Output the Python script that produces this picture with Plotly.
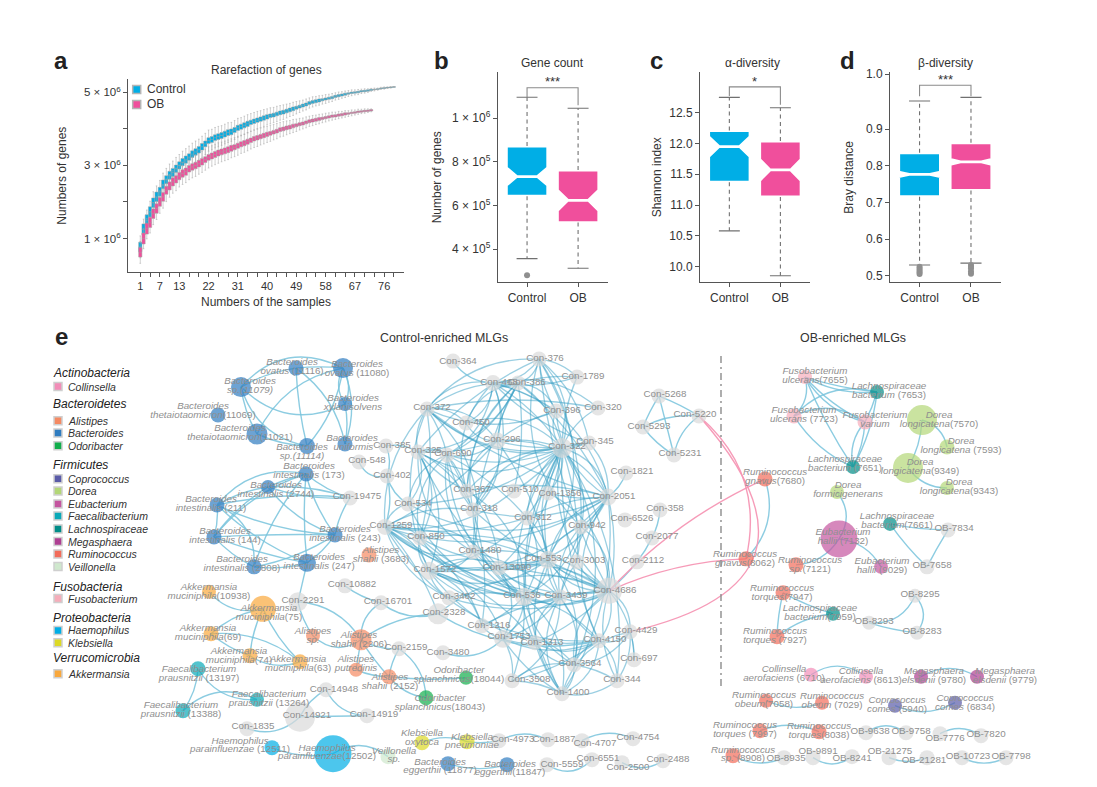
import plotly.graph_objects as go

# ---------- panel a data (units of 1e6 genes) ----------
ctrl_median = [0.77,1.25,1.50,1.73,1.98,2.14,2.28,2.48,2.61,2.73,
 2.81,2.91,3.00,3.09,3.16,3.23,3.31,3.37,3.43,3.51,
 3.59,3.68,3.71,3.76,3.79,3.82,3.86,3.90,3.92,3.97,
 4.03,4.06,4.10,4.14,4.18,4.21,4.24,4.27,4.30,4.33,
 4.36,4.38,4.41,4.44,4.46,4.49,4.52,4.55,4.58,4.61,
 4.64,4.67,4.71,4.74,4.76,4.78,4.80,4.82,4.84,4.86,
 4.89,4.91,4.93,4.95,4.97,4.99,5.00,5.01,5.03,5.04,
 5.05,5.07,5.08,5.09,5.11,5.12,5.13,5.14,5.15]
ob_median = [0.62,1.00,1.27,1.44,1.68,1.82,2.00,2.14,2.32,2.44,
 2.55,2.62,2.71,2.78,2.83,2.91,2.96,3.00,3.05,3.10,
 3.16,3.22,3.26,3.30,3.34,3.37,3.40,3.43,3.47,3.50,
 3.54,3.58,3.61,3.65,3.69,3.73,3.76,3.79,3.82,3.85,
 3.88,3.91,3.94,3.98,4.00,4.03,4.05,4.08,4.10,4.13,
 4.15,4.18,4.21,4.23,4.25,4.27,4.29,4.31,4.33,4.35,
 4.36,4.38,4.39,4.41,4.42,4.44,4.45,4.47,4.48,4.49,4.50,4.51]
box_half = [.13,.15,.15,.14,.13,.13,.12,.12,.11,.11,
 .11,.10,.10,.10,.10,.09,.09,.09,.09,.09,
 .08,.08,.08,.08,.08,.08,.08,.08,.08,.07,
 .07,.07,.07,.07,.06,.06,.06,.06,.06,.06,
 .05,.05,.05,.05,.05,.05,.05,.05,.04,.04,
 .04,.04,.04,.04,.04,.04,.03,.03,.03,.03,
 .03,.03,.03,.03,.02,.02,.02,.02,.02,.02,
 .02,.02,.01,.01,.01,.01,.01,.01,.005]
whisk_half = [.30,.28,.28,.29,.30,.30,.31,.31,.31,.31,
 .31,.31,.30,.30,.30,.30,.30,.30,.29,.29,
 .29,.29,.28,.28,.28,.27,.27,.27,.26,.26,
 .26,.25,.25,.25,.24,.24,.24,.23,.23,.22,
 .22,.21,.21,.20,.20,.19,.18,.18,.17,.16,
 .15,.15,.14,.14,.13,.13,.12,.12,.11,.11,
 .10,.10,.09,.09,.08,.08,.07,.07,.06,.06,
 .05,.04,.04,.03,.03,.03,.02,.02,.01]
sample_labels = [1,7,13,22,31,40,49,58,67,76]
sample_minor = [4,10,16,19,25,28,34,37,43,46,52,55,61,64,70,73,79]

# ---------- panels b, c, d data: q1, median, q3, lower, upper, notch span ----------
groups = ["Control", "OB"]
gene_q1 = [6.43e5, 5.22e5]; gene_med = [7.33e5, 6.24e5]; gene_q3 = [8.73e5, 7.63e5]
gene_lo = [3.57e5, 3.13e5]; gene_hi = [1.096e6, 1.046e6]; gene_notch = [4.0e4, 4.6e4]
gene_out_x = [0]; gene_out_y = [2.81e5]
alpha_q1 = [11.37, 11.13]; alpha_med = [11.95, 11.57]; alpha_q3 = [12.21, 12.04]
alpha_lo = [10.58, 9.85]; alpha_hi = [12.75, 12.58]; alpha_notch = [0.16, 0.17]
beta_q1 = [0.716, 0.733]; beta_med = [0.777, 0.811]; beta_q3 = [0.836, 0.863]
beta_lo = [0.530, 0.535]; beta_hi = [0.977, 0.987]; beta_notch = [0.006, 0.007]
beta_out_x = [0,0,0,0,0,1,1,1,1,1]
beta_out_y = [.525,.52,.515,.51,.505,.53,.525,.52,.512,.506]

# ---------- network nodes: id, label (genus|species|rest), x, y, diameter, label x, label y ----------
collinsella = [("6710","Collinsella|aerofaciens| (6710)",811,675,14,784,674),("8613","Collinsella|aerofaciens| (8613)",866,677,14,861,676)]
alistipes = [("alsp","Alistipes|sp.|",313,636,14,313,636),("2206","Alistipes|shahii| (2206)",361,640,21,359,640),
 ("alpu","Alistipes|putredinis|",356,670,14,356,664),("2152","Alistipes|shahii| (2152)",389,677,15,390,682),
 ("3683","Alistipes|shahii| (3683)",369,555,15,381,555)]
bacteroides = [("11116","Bacteroides|ovatus| (11116)",296,368,15,292,367),("11080","Bacteroides|ovatus| (11080)",343,368,20,357,369),
 ("11079","Bacteroides|sp.(11079)|",241,387,20,250,386),("xyl","Bacteroides|xylanisolvens|",345,404,14,353,403),
 ("11069","Bacteroides|thetaiotaomicron|(11069)",218,415,15,203,411),("11021","Bacteroides|thetaiotaomicron|(11021)",257,434,21,240,433),
 ("11114","Bacteroides|sp.(11114)|",307,446,16,302,452),("uni","Bacteroides| uniformis|",345,444,15,352,443),
 ("173","Bacteroides|intestinalis| (173)",306,474,15,309,471),("2744","Bacteroides|intestinalis| (2744)",268,487,14,276,490),
 ("211","Bacteroides|intestinalis| (211)",217,505,15,211,504),("144","Bacteroides|intestinalis| (144)",214,537,15,225,536),
 ("243","Bacteroides|intestinalis| (243)",335,535,15,345,534),("2808","Bacteroides|intestinalis| (2808)",254,567,15,242,564),
 ("247","Bacteroides|intestinalis| (247)",307,563,18,319,562),("11877","Bacteroides|eggerthii| (11877)",448,764,15,440,767),
 ("11847","Bacteroides|eggerthii|(11847)",507,765,15,510,769)]
odoribacter = [("18043","Odoribacter|splanchnicus|(18043)",426,698,15,440,703),("18044","Odoribacter|splanchnicus|(18044)",466,678,14,459,675)]
coprococcus = [("5940","Coprococcus|comes| (5940)",895,706,14,897,705),("6834","Coprococcus|comes| (6834)",955,703,14,965,703)]
dorea = [("7570","Dorea|longicatena|(7570)",922,420,30,939,420),("7593","Dorea|longicatena| (7593)",947,447,15,961,446),
 ("9349","Dorea|longicatena|(9349)",908,468,30,920,467),("9343","Dorea|longicatena|(9343)",947,488,14,959,487),
 ("for","Dorea|formicigenerans|",837,492,14,848,490)]
eubacterium = [("7132","Eubacterium|hallii| (7132)",839,539,37,843,537),("9029","Eubacterium|hallii| (9029)",881,567,14,882,566)]
faecalibacterium = [("13197","Faecalibacterium|prausnitzii| (13197)",198,669,15,199,674),("13264","Faecalibacterium|prausnitzii| (13264)",257,700,14,269,699),
 ("13388","Faecalibacterium|prausnitzii| (13388)",183,711,15,181,710)]
lachnospiraceae = [("7653","Lachnospiraceae|bacterium| (7653)",877,392,14,889,391),("7651","Lachnospiraceae|bacterium| (7651)",853,467,14,845,464),
 ("7661","Lachnospiraceae|bacterium|(7661)",890,524,14,897,521),("7959","Lachnospiraceae|bacterium|(7959)",833,614,14,820,613)]
megasphaera = [("9780","Megasphaera|elsdenii| (9780)",921,677,14,934,676),("9779","Megasphaera|elsdenii| (9779)",977,677,14,1005,676)]
ruminococcus = [("7680","Ruminococcus|gnavus|(7680)",765,479,15,775,477),("8062","Ruminococcus|gnavus|(8062)",746,559,15,745,559),
 ("7121","Ruminococcus|sp.|(7121)",796,565,15,810,565),("7947","Ruminococcus|torques|(7947)",783,593,15,782,593),
 ("7927","Ruminococcus|torques| (7927)",777,637,15,775,636),("7058","Ruminococcus|obeum|(7058)",766,701,14,764,700),
 ("7029","Ruminococcus|obeum| (7029)",822,703,14,832,701),("7997","Ruminococcus|torques| (7997)",760,731,15,745,730),
 ("8038","Ruminococcus|torques|(8038)",819,732,15,819,731),("8908","Ruminococcus|sp.| (8908)",733,756,15,743,755)]
veillonella = [("vei","Veillonella|sp.|",388,757,15,394,756)]
fusobacterium = [("7655","Fusobacterium|ulcerans|(7655)",805,377,14,815,376),("7723","Fusobacterium|ulcerans| (7723)",794,416,15,804,415),
 ("var","Fusobacterium|varium|",865,422,15,875,420)]
haemophilus = [("12511","Haemophilus|parainfluenzae| (12511)",272,748,15,240,746),("12502","Haemophilus|parainfluenzae|(12502)",333,754,37,327,753)]
klebsiella = [("oxy","Klebsiella|oxytoca|",422,743,15,422,738),("pne","Klebsiella|pneumoniae|",467,742,15,472,742)]
akkermansia = [("10938","Akkermansia|muciniphila|(10938)",209,592,14,209,592),("75","Akkermansia|muciniphila|(75)",263,609,26,269,613),
 ("69","Akkermansia|muciniphila|(69)",211,634,15,208,633),("74","Akkermansia|muciniphila|(74)",250,656,15,239,656),
 ("63","Akkermansia|muciniphila|(63)",300,662,15,298,664)]
con_nodes = [("C548",359,462,15,367,461),("C19475",350,498,15,357,497),("C2291",298,602,19,303,601),("C10882",345,586,15,352,585),
 ("C16701",381,603,15,388,602),("C2159",399,649,15,406,648),("C14948",326,690,15,334,690),("C14921",300,717,30,307,716),
 ("C14919",367,716,15,374,715),("C1835",247,729,15,253,727),("C3480",443,653,15,448,653),("C4973",499,741,15,513,740),
 ("C1887",548,740,15,554,740),("C4707",582,741,15,595,744),("C4754",633,739,15,638,738),("C5559",547,765,15,562,765),
 ("C6551",592,760,15,598,759),("C2500",622,763,15,628,768),("C2488",663,761,15,668,760),("C364",453,361,15,458,361),
 ("C376",539,359,15,545,358),("C468",493,383,16,499,382),("C386",518,383,15,527,382),("C1789",577,377,15,583,376),
 ("C372",427,409,15,432,408),("C396",556,411,15,562,411),("C320",598,408,15,603,408),("C450",466,423,15,471,423),
 ("C296",497,441,17,502,440),("C322",562,448,20,567,447),("C345",589,443,15,595,442),("C385",386,446,15,392,446),
 ("C325",418,452,15,423,451),("C690",447,455,15,453,454),("C402",387,476,15,392,476),("C1821",626,473,15,632,472),
 ("C367",467,491,15,472,490),("C510",514,491,15,520,490),("C1356",548,493,15,560,494),("C2051",608,497,17,614,497),
 ("C534",408,504,15,413,504),("C318",473,510,15,479,509),("C358",660,510,15,665,509),("C312",527,518,15,533,518),
 ("C6526",625,520,15,632,519),("C942",581,527,15,587,526),("C1259",385,527,16,391,526),("C850",420,538,15,426,537),
 ("C2077",652,538,15,657,537),("C1480",473,552,15,480,551),("C553",548,560,18,543,559),("C3003",577,562,15,584,561),
 ("C2112",637,562,15,643,561),("C1572",429,571,18,435,570),("C13090",499,568,15,507,568),("C4686",609,591,26,615,591),
 ("C536",524,597,18,522,596),("C3439",560,597,15,566,596),("C3482",449,598,15,454,597),("C2328",438,614,21,444,613),
 ("C1216",482,626,15,489,626),("C1753",503,639,18,509,637),("C1313",535,643,15,542,643),("C4150",599,641,15,605,640),
 ("C4429",630,632,15,636,631),("C697",634,660,15,639,659),("C3564",574,665,15,580,664),("C3508",512,681,15,529,680),
 ("C344",617,681,15,622,680),("C1400",562,694,15,568,693),("C5268",659,396,15,665,395),("C5220",699,416,15,695,415),
 ("C5293",643,427,15,649,427),("C5231",674,455,15,680,454)]
ob_nodes = [("OB7834",948,530,15,954,529),("OB7658",927,567,15,932,566),("OB8295",915,596,14,920,595),("OB8293",869,623,14,874,622),
 ("OB8283",917,633,14,922,632),("OB9638",866,733,15,870,732),("OB9758",906,733,15,911,732),("OB7776",940,734,15,945,739),
 ("OB7820",981,736,15,986,735),("OB8935",784,758,15,786,759),("OB9891",813,758,15,818,752),("OB8241",852,757,15,852,759),
 ("OB21275",889,758,15,890,752),("OB21281",927,758,15,924,761),("OB10723",962,758,15,968,757),("OB7798",1006,758,15,1011,757)]

# ---------- network links ----------
dense_links = {
 "C322":["C376","C468","C386","C1789","C372","C396","C320","C450","C296","C345","C325","C690","C367","C510","C1356","C2051","C534","C318","C312","C942","C553","C3003","C1572","C13090","C4686","C536","C3439","C4150","C3564","C344","C1400","C1313"],
 "C4686":["C2051","C376","C1259","C850","C1480","C553","C3003","C1572","C13090","C536","C3439","C3482","C1216","C1753","C1313","C4150","C4429","C3564","C344","C697","C942","C312","C318","C1356","C2328"],
 "C536":["C1259","C850","C1572","C1480","C318","C312","C13090","C553","C3439","C367","C534","C1216","C1753","C3482","C4150","C3564","C1400","C3508","C942","C325","C690"],
 "C553":["C1259","C850","C1572","C1480","C312","C13090","C3439","C3564","C1400","C296","C2051","C942"],
 "C2051":["C372","C296","C386","C468","C396","C318","C534","C312","C367","C1356","C942","C1259","C1572","C3439","C4150","C1400","C13090","C345"],
 "C372":["C376","C468","C386","C396","C450","C296","C690","C325","C1259","C850","C1572","C1480","C345","C320"],
 "C376":["C468","C386","C1789","C396","C345","C325","C942","C3003","C553"],
 "C468":["C386","C396","C1789","C296","C450","C690","C367","C345","C320","C318"],
 "C386":["C396","C1789","C296","C450","C325","C690","C367","C510","C318","C1480"],
 "C296":["C325","C690","C450","C367","C318","C1259","C345","C396"],
 "C1259":["C534","C850","C1480","C1572","C13090","C312","C318","C3439","C1216","C3482","C2328","C4150","C510"],
 "C325":["C534","C850","C1572","C690","C367","C318","C1480","C13090"],
 "C690":["C534","C318","C850","C367","C1480","C1216","C312"],
 "C3439":["C1753","C1313","C4150","C3564","C1572","C1480","C850","C13090","C3003","C942","C1400","C3508"],
 "C1572":["C13090","C850","C1480","C3482","C1216","C1753","C1313","C4150"],
 "C1753":["C1216","C1313","C3508","C1400","C4150","C3564","C13090"],
 "C4150":["C1313","C3564","C1400","C344","C4429","C3508"],
 "C3564":["C1313","C1400","C344","C3508"],
 "C1400":["C3508","C344","C1313","C4429"],
 "C4429":["C697","C344","C3564"],
}
side_links = [("11116","11080",.05),("11079","11080",.38),("11079","11116",.1),("11079","xyl",-.35),("11079","11114",-.3),("11079","11021",-.1),
 ("11021","11080",.25),("11116","11114",-.05),("11080","xyl",.25),("11080","xyl",-.3),("11080","uni",.2),("11114","11080",-.15),("11021","11114",-.1),("xyl","uni",.1),("11116","uni",.2),
 ("211","173",.3),("144","173",.15),("2744","173",.05),("173","C19475",-.1),("173","243",-.1),("2808","173",.1),("173","247",-.05),("2744","C19475",.1),("2744","C19475",-.1),
 ("211","2744",.1),("144","2744",.1),("2744","243",-.15),("211","C19475",.08),("211","243",-.1),("211","247",-.1),("211","144",.1),("211","2808",.35),("144","243",.02),("144","247",-.05),
 ("144","2808",-.1),("243","247",.1),("2808","243",-.1),("2808","247",-.1),("C19475","243",-.1),("247","C2291",0),
 ("10938","75",-.3),("69","75",.15),("69","74",-.1),("69","63",.2),("74","63",-.25),("74","75",.1),("75","63",-.1),("C2291","alsp",-.1),("C2291","2206",.25),
 ("alsp","2206",-.4),("2206","C16701",.3),("C10882","C16701",-.1),("2206","C2328",.15),("2206","C2159",-.15),("2206","2152",-.05),("2206","alpu",0),("alpu","2152",-.1),("2152","C2159",.1),
 ("2152","18043",-.2),("C2159","18043",.25),("2152","18044",-.05),("C3480","C1753",-.3),("C16701","C2328",-.25),("C2328","C4150",-.2),("C548","C402",-.4),("C385","C402",.2),("C402","C534",-.2),
 ("C385","C325",.2),("C402","C1259",.15),("C364","C468",-.25),("C1821","C2051",.15),("C358","C2077",.1),("C2077","C2112",.05),("C2112","C4686",.05),
 ("C5268","C5220",.05),("C5293","C5268",.05),("C5268","C5231",0),("C5293","C5220",.15),("C5293","C5231",-.1),("C5231","C5220",.2),
 ("13197","13264",-.3),("13388","13197",-.15),("13388","13264",.35),("C14921","C14948",.15),("C14948","C14919",-.3),("C14921","C14919",0),("C1835","C14921",-.3),
 ("12511","12502",-.15),("12502","vei",.35),("oxy","pne",.2),("pne","C4973",-.1),("C4973","C1887",.25),("C4707","C4754",.25),("11877","11847",-.15),("C5559","C6551",-.4),("C2500","C2488",-.3),
 ("7655","7653",-.05),("7655","7653",-.15),("7723","7655",-.3),("7655","var",-.1),("7655","var",-.2),("7655","7651",-.05),("7723","7653",.3),("7723","var",.3),("7723","7651",-.15),("var","7653",-.05),
 ("7651","7653",-.1),("7651","var",.25),("7651","var",-.1),("7570","7593",.3),("9349","7570",-.12),("9349","9343",-.25),("for","7132",.35),("7132","9029",.25),("7121","7132",-.25),
 ("7661","OB7834",-.05),("7661","OB7658",-.05),("OB7658","OB7834",.02),("7680","8062",.3),
 ("7927","7947",.05),("7947","7959",-.05),("7927","7959",.15),("OB8293","OB8295",-.35),("OB8295","OB8283",.4),("OB8293","OB8283",-.05),
 ("6710","8613",.35),("9780","9779",.3),("7058","7029",-.2),("5940","6834",-.25),("7997","8038",.2),("OB9638","OB9758",.35),("OB7776","OB7820",.3),("8908","OB8935",-.25),("OB9891","OB8241",-.35),("OB21275","OB21281",-.2),("OB10723","OB7798",-.25)]
pink_links = [("C4429","C5220",-.84),("8062","C5220",-.3),("C4686","7680",.1),("C4686","8062",.1)]

# ---------- legend ----------
legend_rows = [("Actinobacteria",373,None),("Collinsella",386.5,"#f28db8"),("Bacteroidetes",404,None),("Alistipes",420.7,"#f58a63"),
 ("Bacteroides",433,"#2f7cc0"),("Odoribacter",445.7,"#12ae4c"),("Firmicutes",465,None),("Coprococcus",478.7,"#5a5ba8"),
 ("Dorea",491,"#b3d777"),("Eubacterium",504,"#c4559f"),("Faecalibacterium",516,"#0aa9b8"),("Lachnospiraceae",529,"#008d88"),
 ("Megasphaera",541.7,"#ae3f92"),("Ruminococcus",554,"#f26c5a"),("Veillonella",566.7,"#cfe8cd"),("Fusobacteria",586.7,None),
 ("Fusobacterium",598.7,"#f6adba"),("Proteobacteria",617.7,None),("Haemophilus",630.7,"#00aee6"),("Klebsiella",643,"#dcd925"),
 ("Verrucomicrobia",658,None),("Akkermansia",674,"#f9a83c")]

BLUE, PINK = "#00aee6", "#f04f9c"
TXT, AX, FONT = "#333333", "#555555", "Liberation Sans"
W, H = 1097, 787
Y0, YK = 4.5, 0.9935   # rendered page offset correction

def PY(y): return (y - Y0) / YK
def xdom(a, b): return [a / W, b / W]
def ydom(top, bot): return [1 - PY(bot) / H, 1 - PY(top) / H]

fig = go.Figure()
axis_common = dict(showline=True, linecolor=AX, linewidth=1, ticks="outside", tickcolor=AX, ticklen=4, tickwidth=1,
                   showgrid=False, zeroline=False, tickfont=dict(family=FONT, size=11.5, color=TXT))
axt = lambda s, st: dict(text=s, standoff=st, font=dict(family=FONT, size=12, color=TXT))
minor = lambda vals: dict(tickmode="array", tickvals=vals, ticks="outside", ticklen=4, tickwidth=1, tickcolor=AX, showgrid=False)

# ---- panel a ----
n_c = list(range(1, len(ctrl_median) + 1))
n_o = list(range(1, len(ob_median) + 1))
for ns, med, col, name in [(n_c, ctrl_median, BLUE, "Control"), (n_o, ob_median, PINK, "OB")]:
    fig.add_trace(go.Box(x=ns, name=name,
        q1=[(m - b) * 1e6 for m, b in zip(med, box_half)], median=[m * 1e6 for m in med],
        q3=[(m + b) * 1e6 for m, b in zip(med, box_half)],
        lowerfence=[(m - w) * 1e6 for m, w in zip(med, whisk_half)],
        upperfence=[(m + w) * 1e6 for m, w in zip(med, whisk_half)],
        width=1.0, whiskerwidth=0.5, fillcolor=col, line=dict(color="#a2a2a2", width=0.5),
        boxpoints=False, showlegend=False, xaxis="x", yaxis="y"))
fig.update_layout(
    xaxis=dict(domain=xdom(128, 404), range=[-2.78, 82.1], tickvals=sample_labels,
               ticktext=[str(t) for t in sample_labels], minor=minor(sample_minor), title=axt("Numbers of the samples", 6),
               anchor="y", **{**axis_common, "tickfont": dict(family=FONT, size=11, color=TXT)}),
    yaxis=dict(domain=ydom(79, 271.7), range=[0.085e6, 5.356e6], tickvals=[1e6, 3e6, 5e6],
               ticktext=["1 × 10<sup>6</sup>", "3 × 10<sup>6</sup>", "5 × 10<sup>6</sup>"], minor=minor([2e6, 4e6]),
               title=axt("Numbers of genes", 14), anchor="x", **axis_common))

# ---- panels b, c, d ----
panels = [
 ("2", 497.7, 607.7, [2.49e5, 1.21e6], [4e5, 6e5, 8e5, 1e6],
  ["4 × 10<sup>5</sup>", "6 × 10<sup>5</sup>", "8 × 10<sup>5</sup>", "1 × 10<sup>6</sup>"], "Number of genes", 7,
  gene_q1, gene_med, gene_q3, gene_lo, gene_hi, gene_notch, gene_out_x, gene_out_y, 1.14e6, [1.096e6, 1.06e6]),
 ("3", 700, 810, [9.746, 13.155], [10, 10.5, 11, 11.5, 12, 12.5], ["10.0", "10.5", "11.0", "11.5", "12.0", "12.5"], "Shannon index", 5,
  alpha_q1, alpha_med, alpha_q3, alpha_lo, alpha_hi, alpha_notch, [], [], 12.92, [12.77, 12.63]),
 ("4", 890, 1000.8, [0.483, 1.055], [.5, .6, .7, .8, .9, 1.05], ["0.5", "0.6", "0.7", "0.8", "0.9", "1.0"], "Bray distance", 9,
  beta_q1, beta_med, beta_q3, beta_lo, beta_hi, beta_notch, beta_out_x, beta_out_y, 1.02, [.99, .99]),
]
for sfx, x0, x1, yr, tv, tt, ytitle, st, q1, med, q3, lo, hi, notch, ox, oy, brk, brk_end in panels:
    xa, ya = "x" + sfx, "y" + sfx
    for i, col in enumerate([BLUE, PINK]):
        fig.add_trace(go.Box(x=[i], q1=[q1[i]], median=[med[i]], q3=[q3[i]], lowerfence=[q1[i]], upperfence=[q3[i]],
            notched=True, notchspan=[notch[i]], notchwidth=0.25, width=0.81, fillcolor=col,
            line=dict(color="#ffffff", width=2.8), boxpoints=False, whiskerwidth=0, showlegend=False, xaxis=xa, yaxis=ya, name=groups[i]))
        fig.add_trace(go.Scatter(x=[i, i, None, i, i], y=[q3[i], hi[i], None, q1[i], lo[i]], mode="lines",
            line=dict(color="#707070", width=1.1, dash="4px,3.5px"), showlegend=False, xaxis=xa, yaxis=ya, hoverinfo="skip"))
        fig.add_trace(go.Scatter(x=[i - .205, i + .205, None, i - .205, i + .205], y=[hi[i], hi[i], None, lo[i], lo[i]], mode="lines",
            line=dict(color="#707070", width=1.1), showlegend=False, xaxis=xa, yaxis=ya, hoverinfo="skip"))
    if ox:
        fig.add_trace(go.Scatter(x=ox, y=oy, mode="markers", marker=dict(color="#8f8f8f", size=6), showlegend=False, xaxis=xa, yaxis=ya, hoverinfo="skip"))
    fig.add_trace(go.Scatter(x=[0, 0, 1, 1], y=[brk_end[0], brk, brk, brk_end[1]], mode="lines", line=dict(color="#8a8a8a", width=1.1),
                             showlegend=False, xaxis=xa, yaxis=ya, hoverinfo="skip"))
    fig.layout["xaxis" + sfx] = dict(domain=xdom(x0, x1), range=[-0.575, 1.58], tickvals=[0, 1], ticktext=groups, anchor=ya,
                                     **{**axis_common, "tickfont": dict(family=FONT, size=12, color=TXT)})
    fig.layout["yaxis" + sfx] = dict(domain=ydom(72, 282), range=yr, tickvals=tv, ticktext=tt, anchor=xa, title=axt(ytitle, st),
                                     **{**axis_common, "tickfont": dict(family=FONT, size=12, color=TXT)})

# ---- overlay in page pixels for the network ----
fig.layout["xaxis5"] = dict(domain=[0, 1], range=[0, W], visible=False, anchor="y5", fixedrange=True)
fig.layout["yaxis5"] = dict(domain=[0, 1], range=[Y0 + YK * H, Y0], visible=False, anchor="x5", fixedrange=True)

gray_groups = [(con_nodes, "Con-"), (ob_nodes, "OB-")]
colored = [(collinsella, "#f28db8"), (alistipes, "#f58a63"), (bacteroides, "#2f7cc0"), (odoribacter, "#12ae4c"), (coprococcus, "#5a5ba8"),
           (dorea, "#b3d777"), (eubacterium, "#c4559f"), (faecalibacterium, "#0aa9b8"), (lachnospiraceae, "#008d88"), (megasphaera, "#ae3f92"),
           (ruminococcus, "#f26c5a"), (veillonella, "#cfe8cd"), (fusobacterium, "#f6adba"), (haemophilus, "#00aee6"), (klebsiella, "#dcd925"), (akkermansia, "#f9a83c")]
pos = {}
for rows, _ in colored:
    for r in rows:
        pos[r[0]] = (r[2], r[3])
for rows, _ in gray_groups:
    for r in rows:
        pos[r[0]] = (r[1], r[2])

def curve(a, b, c, color, width):
    (x1, y1), (x2, y2) = pos[a], pos[b]
    mx, my = (x1 + x2) / 2, (y1 + y2) / 2
    cx, cy = mx + c * (y2 - y1), my - c * (x2 - x1)
    return dict(type="path", path=f"M {x1} {y1} Q {cx:.1f} {cy:.1f} {x2} {y2}", xref="x5", yref="y5",
                line=dict(color=color, width=width), layer="below")

shapes = []
curv_cycle = [.18, -.22, .3, -.12, .25, -.3, .1]
names = [r[0] for r in con_nodes]
EDGE = "rgba(55,160,198,0.5)"
for hub, targets in dense_links.items():
    for t in targets:
        c = curv_cycle[(names.index(hub) * 3 + names.index(t) * 5) % 7]
        shapes.append(curve(hub, t, c, EDGE, 1.3))
for a, b, c in side_links:
    shapes.append(curve(a, b, c, "rgba(120,195,220,0.85)", 1.4))
for a, b, c in pink_links:
    shapes.append(curve(a, b, c, "rgba(245,150,180,0.95)", 1.4))
shapes.append(dict(type="line", x0=721, x1=721, y0=356, y1=688, xref="x5", yref="y5", layer="below",
                   line=dict(color="#8c8c8c", width=1.4, dash="7px,4px,2px,4px")))
fig.update_layout(shapes=shapes)

# nodes and labels
tx, ty, tt = [], [], []
def add_label(label, lx, ly):
    parts = label.split("|")
    first = f"<i>{parts[0]}</i>"
    second = f"<i>{parts[1]}</i>{parts[2]}"
    tx.extend([lx, lx]); ty.extend([ly - 4.4, ly + 4.4]); tt.extend([first, second])

for rows, col in colored:
    fig.add_trace(go.Scatter(x=[r[2] for r in rows], y=[r[3] for r in rows], mode="markers", showlegend=False, hoverinfo="skip",
                             marker=dict(color=col, size=[r[4] for r in rows], line=dict(width=0)), xaxis="x5", yaxis="y5"))
    for r in rows:
        add_label(r[1], r[5], r[6])
for rows, prefix in gray_groups:
    fig.add_trace(go.Scatter(x=[r[1] for r in rows], y=[r[2] for r in rows], mode="markers", showlegend=False, hoverinfo="skip",
                             marker=dict(color="#dadada", size=[r[3] for r in rows], line=dict(width=0)), xaxis="x5", yaxis="y5"))
    for r in rows:
        tx.append(r[4]); ty.append(r[5]); tt.append(prefix + r[0].lstrip("COB"))
fig.add_trace(go.Scatter(x=tx, y=ty, text=tt, mode="text", textposition="middle center", showlegend=False, hoverinfo="skip",
                         textfont=dict(family=FONT, size=9.8, color="#8f8f8f"), xaxis="x5", yaxis="y5"))

# legend swatches
leg = [r for r in legend_rows if r[2]]
fig.add_trace(go.Scatter(x=[58] * len(leg), y=[r[1] for r in leg], mode="markers", showlegend=False, hoverinfo="skip",
                         marker=dict(symbol="square", size=8, color=[r[2] for r in leg], line=dict(color="#cfcfcf", width=1.5)), xaxis="x5", yaxis="y5"))
fig.add_trace(go.Scatter(x=[136.7, 136.7], y=[89, 104], mode="markers", showlegend=False, hoverinfo="skip",
                         marker=dict(symbol="square", size=8, color=[BLUE, PINK], line=dict(color="#b5b5b5", width=1.5)), xaxis="x5", yaxis="y5"))

ann = []
def note(x, y, s, size=12, color=TXT, anchor="center"):
    ann.append(dict(x=x - (3 if anchor == "left" else 0), y=y, xref="x5", yref="y5", text=s, showarrow=False, xanchor=anchor, yanchor="middle",
                    font=dict(family=FONT, size=size, color=color)))
for s, x in [("a", 61), ("b", 441), ("c", 656), ("d", 847)]:
    note(x, 60, f"<b>{s}</b>", size=24, color="#222222")
note(61, 336, "<b>e</b>", size=24, color="#222222")
note(266, 70, "Rarefaction of genes")
note(552, 63, "Gene count")
note(752, 63, "α-diversity")
note(945, 63, "β-diversity")
note(552, 81, "***", size=13)
note(754, 81, "*", size=13)
note(945, 79, "***", size=13)
note(148, 89, "Control", anchor="left")
note(148, 104, "OB", anchor="left")
note(444, 338, "Control-enriched MLGs", size=12.4)
note(853, 338, "OB-enriched MLGs", size=12.4)
for s, y, c in legend_rows:
    if c:
        note(69, y, f"<i>{s}</i>", size=10.5, anchor="left", color="#333333")
    else:
        note(54, y, f"<i>{s}</i>", size=12, anchor="left", color="#222222")

fig.update_layout(width=W, height=H, margin=dict(l=0, r=0, t=0, b=0), paper_bgcolor="white", plot_bgcolor="rgba(0,0,0,0)",
                  annotations=ann, showlegend=False, boxmode="overlay")
fig.write_html("out.html", config={"displayModeBar": False},
               post_script="document.body.style.margin='0';document.body.style.overflow='hidden';")
